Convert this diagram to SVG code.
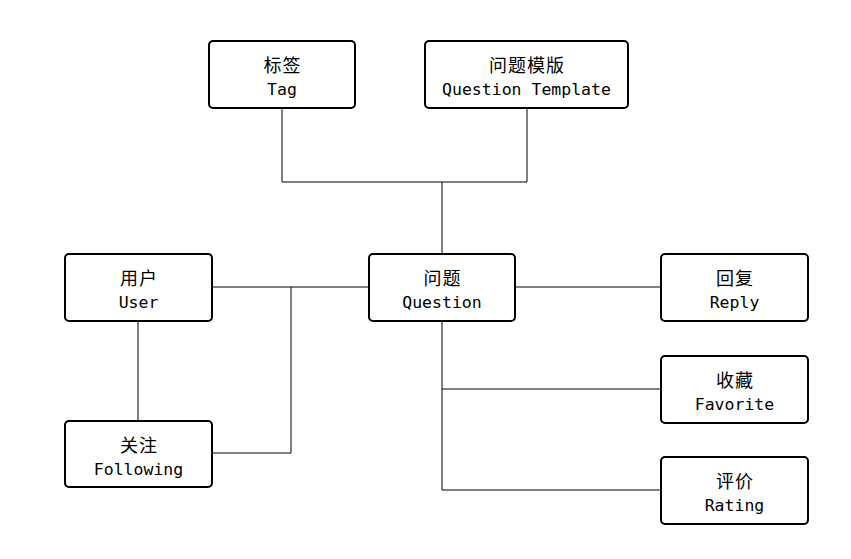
<svg xmlns="http://www.w3.org/2000/svg" width="851" height="559" viewBox="0 0 851 559">
<style>
.box{fill:#fff;stroke:#000;stroke-width:2}
.zh{font-family:"Noto Sans CJK SC","Noto Sans",sans-serif;font-size:18px;letter-spacing:1px;text-anchor:middle;fill:#000}
.en{font-family:"DejaVu Sans Mono","Liberation Mono",monospace;font-size:16.5px;text-anchor:middle;fill:#000}
.ln{fill:none;stroke:#000;stroke-width:1}
</style>
<rect width="851" height="559" fill="#fff"/>
<g id="connectors">
<polyline class="ln" points="282,108 282,182 527,182 527,108"/>
<line class="ln" x1="442" y1="182" x2="442" y2="254"/>
<line class="ln" x1="212" y1="287" x2="369" y2="287"/>
<polyline class="ln" points="212,453 291,453 291,287"/>
<line class="ln" x1="138" y1="321" x2="138" y2="421"/>
<line class="ln" x1="515" y1="287" x2="661" y2="287"/>
<polyline class="ln" points="442,321 442,490 661,490"/>
<line class="ln" x1="442" y1="389" x2="661" y2="389"/>
</g>
<g id="tag">
<rect class="box" x="209" y="41" width="146" height="67" rx="4"/>
<text class="zh" x="282.5" y="72">标签</text>
<text class="en" x="282" y="95">Tag</text>
</g>
<g id="template">
<rect class="box" x="425" y="41" width="203" height="67" rx="4"/>
<text class="zh" x="527" y="72">问题模版</text>
<text class="en" x="526.5" y="95">Question Template</text>
</g>
<g id="user">
<rect class="box" x="65" y="254" width="147" height="67" rx="4"/>
<text class="zh" x="139" y="285">用户</text>
<text class="en" x="138.5" y="308">User</text>
</g>
<g id="question">
<rect class="box" x="369" y="254" width="146" height="67" rx="4"/>
<text class="zh" x="442.5" y="285">问题</text>
<text class="en" x="442" y="308">Question</text>
</g>
<g id="following">
<rect class="box" x="65" y="421" width="147" height="66" rx="4"/>
<text class="zh" x="139" y="452">关注</text>
<text class="en" x="138.5" y="475">Following</text>
</g>
<g id="reply">
<rect class="box" x="661" y="254" width="147" height="67" rx="4"/>
<text class="zh" x="735" y="285">回复</text>
<text class="en" x="734.5" y="308">Reply</text>
</g>
<g id="favorite">
<rect class="box" x="661" y="356" width="147" height="67" rx="4"/>
<text class="zh" x="735" y="387">收藏</text>
<text class="en" x="734.5" y="410">Favorite</text>
</g>
<g id="rating">
<rect class="box" x="661" y="457" width="147" height="67" rx="4"/>
<text class="zh" x="735" y="488">评价</text>
<text class="en" x="734.5" y="511">Rating</text>
</g>
</svg>
